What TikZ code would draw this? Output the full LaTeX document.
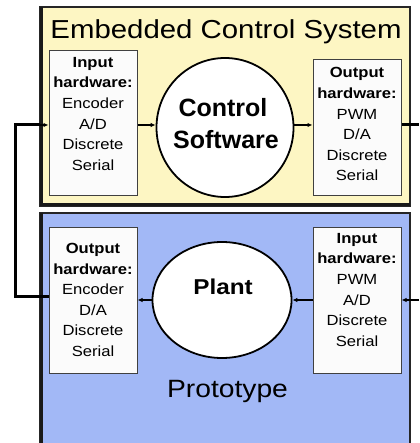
\documentclass[tikz,border=0pt]{standalone}
\usepackage{fontspec}
\setmainfont[FakeStretch=1.13]{Liberation Sans}
\newfontfamily\blobfont{Liberation Sans}
\usetikzlibrary{shapes.geometric,arrows.meta}
\definecolor{ecsyellow}{HTML}{FDF6C3}
\definecolor{protoblue}{HTML}{A2B8F6}
\definecolor{hwfill}{HTML}{FBFBFB}
\begin{document}
\begin{tikzpicture}[x=1pt,y=-1pt,
  hwbox/.style={draw=black!75,line width=1pt,fill=hwfill,inner sep=0pt,
    minimum width=88pt},
  hwtext/.style={anchor=north,inner sep=0pt,align=center,
    font=\fontsize{14.7}{20.6}\selectfont},
  blob/.style={ellipse,draw=black,line width=1.8pt,fill=white,inner sep=0pt},
  blobtext/.style={anchor=base,inner sep=0pt,font=\blobfont\bfseries\fontsize{25}{30}\selectfont},
  flow/.style={line width=2pt,-{Latex[length=5pt,width=4.5pt]}},
  wire/.style={line width=3pt},
  panelrim/.style={draw=black!85,line width=1.2pt}]
\useasboundingbox (0,0) rectangle (419,443);
\clip (0,0) rectangle (419,443);

% panels
\path[fill=ecsyellow] (40,7) rectangle (410,206);
\draw[panelrim] (40,7) rectangle (410,206);
\draw[line width=3pt,black!90] (41.5,7) -- (41.5,204.5) -- (410,204.5);
\path[fill=protoblue] (40,213) rectangle (410,460);
\draw[panelrim] (40,213) rectangle (410,460);
\draw[line width=3pt,black!90] (41.5,213) -- (41.5,460);

\node[anchor=base,font=\fontsize{26}{30}\selectfont] (ttl) at (226,39) {Embedded Control System};
\node[anchor=base,font=\fontsize{25}{28}\selectfont] (proto) at (227.5,397) {Prototype};

% row reference points
\coordinate (rowA) at (0,125);
\coordinate (rowB) at (0,300);
\coordinate (fbB) at (15,296);
\coordinate (fbEdge) at (40,125);
\coordinate (fbTip) at (38,125);

% embedded controller
\node[hwbox,minimum height=145pt] (ihw) at (93,123.5) {};
\node[hwtext] (ihwt) at (93,57) {\textbf{Input}\\\textbf{hardware:}\\Encoder\\A/D\\Discrete\\Serial};
\node[blob,minimum width=137pt,minimum height=139pt] (ctl) at (225,127.5) {};
\node[blobtext] (ctlA) at (223,117) {Control};
\node[blobtext] (ctlB) at (226,149) {Software};
\node[hwbox,minimum height=136pt] (ohw) at (357,128) {};
\node[hwtext] (ohwt) at (357,67.5) {\textbf{Output}\\\textbf{hardware:}\\PWM\\D/A\\Discrete\\Serial};

% prototype
\node[hwbox,minimum height=146pt] (pout) at (93,300) {};
\node[hwtext] (poutt) at (93,243) {\textbf{Output}\\\textbf{hardware:}\\Encoder\\D/A\\Discrete\\Serial};
\node[blob,minimum width=139pt,minimum height=116pt] (plant) at (222,300) {};
\node[anchor=base,font=\bfseries\fontsize{21.5}{26}\selectfont] (plantt) at (223,294) {Plant};
\node[hwbox,minimum height=146pt] (pin) at (357,300) {};
\node[hwtext] (pint) at (357,233) {\textbf{Input}\\\textbf{hardware:}\\PWM\\A/D\\Discrete\\Serial};

% edge stubs beyond the right border
\coordinate (outA) at (419,125);
\coordinate (inB) at (419,300);

% signal flow
\draw[flow] (ihw.east |- rowA) -- (ctl.west |- rowA);
\draw[flow] (ctl.east |- rowA) -- (ohw.west |- rowA);
\draw[wire] (ohw.east |- rowA) -- (outA);
\draw[flow] (inB) -- (pin.east |- rowB);
\draw[flow] (pin.west |- rowB) -- (plant.east);
\draw[flow] (plant.west) -- (pout.east |- rowB);
\draw[wire] (pout.west |- fbB) -- (fbB) |- (fbEdge);
\draw[flow] (fbTip) -- (ihw.west |- rowA);
\end{tikzpicture}
\end{document}
